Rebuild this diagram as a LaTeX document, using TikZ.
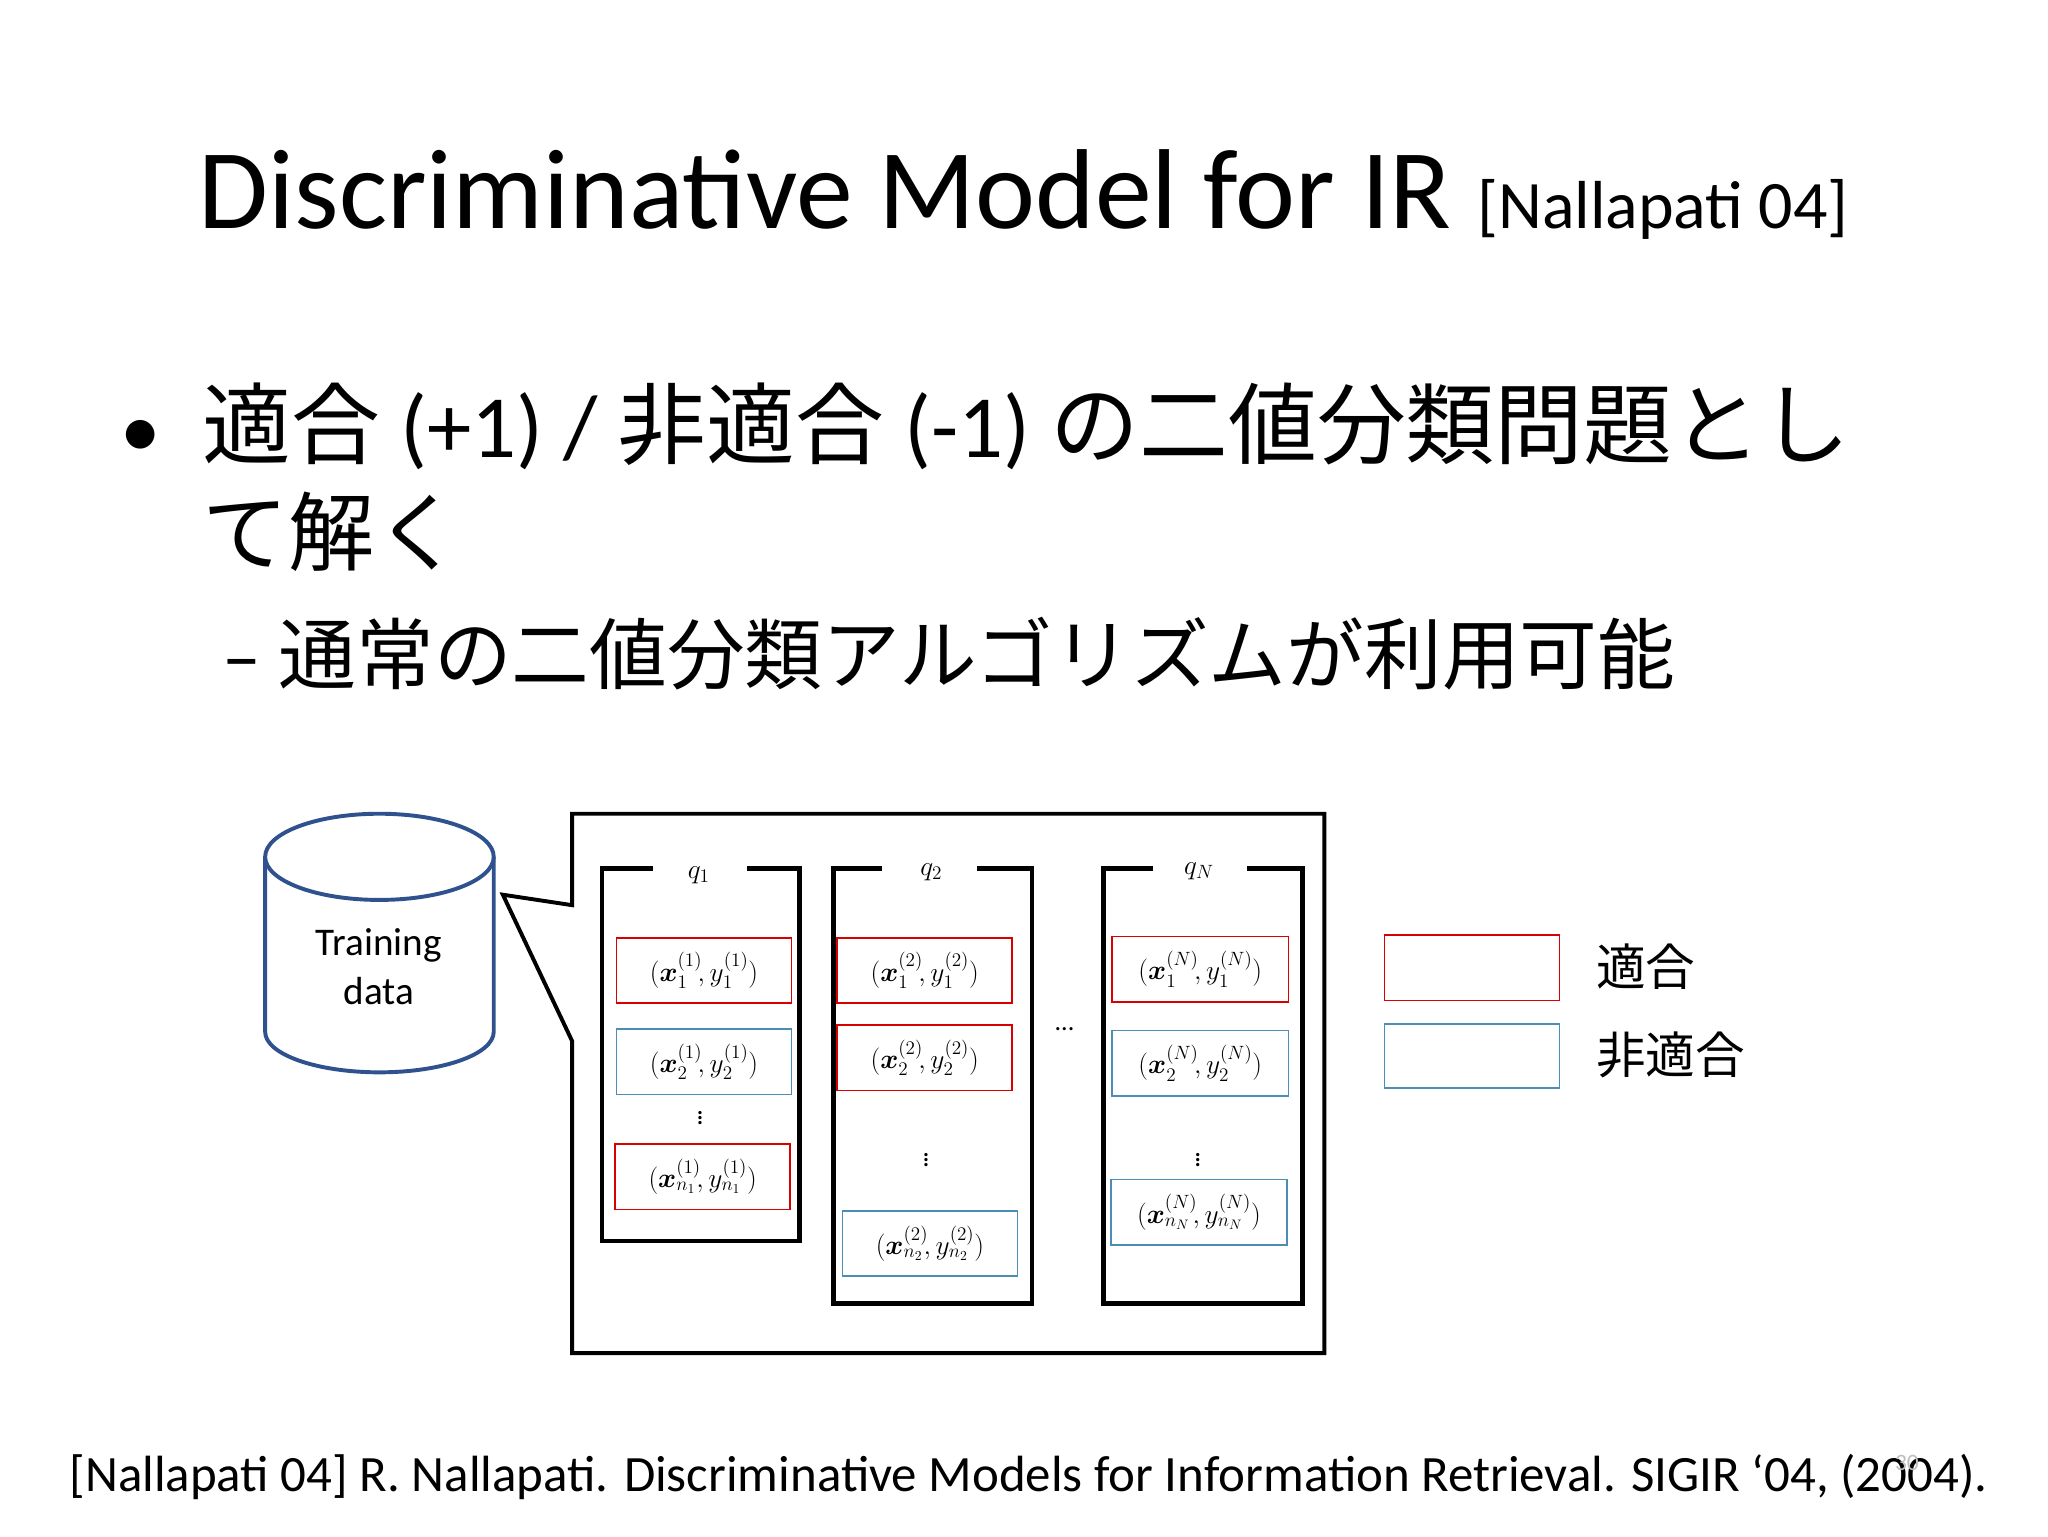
\RequirePackage{fix-cm}
\documentclass[tikz,border=0pt]{standalone}
\usepackage{amsmath}
\usepackage{fontspec}
\setmainfont{Carlito}
\newfontfamily\jp{Noto Sans CJK JP}
\usetikzlibrary{shapes.geometric}
\tikzset{
  redbox/.style={draw=red!85!black,line width=1.3pt,minimum width=134pt,minimum height=50pt,inner sep=0pt},
  bluebox/.style={draw=blue!40!cyan!60!black!70,line width=1.3pt,minimum width=134pt,minimum height=50pt,inner sep=0pt},
  col/.style={line width=3.5pt},
  mth/.style={font=\fontsize{21}{24}\selectfont}
}
\begin{document}
\begin{tikzpicture}[x=1pt,y=-1pt]
\useasboundingbox (0,0) rectangle (1568,1176);
\fill[white] (0,0) rectangle (1568,1176);
% title
\node[anchor=base west,inner sep=0] (title) at (152,175) {\fontsize{87}{90}\selectfont Discriminative Model for IR \fontsize{52}{56}\selectfont[Nallapati 04]};
% bullets
\node[anchor=base west,inner sep=0] (b1) at (92,350) {\fontsize{62}{70}\selectfont •};
\node[anchor=base west,inner sep=0] (l1) at (155,350) {\fontsize{68}{70}\selectfont{\jp 適合} (+1) / {\jp 非適合} (-1) {\jp の二値分類問題とし}};
\node[anchor=base west,inner sep=0] (l2) at (155,432) {\fontsize{66}{70}\selectfont\jp て解く};
\node[anchor=base west,inner sep=0] (l3) at (170,523) {\fontsize{59.5}{64}\selectfont – {\jp 通常の二値分類アルゴリズムが利用可能}};
% cylinder
\draw[line width=3pt,draw={rgb,255:red,47;green,82;blue,143},fill=white] (203,656) -- (203,790) arc[start angle=180,end angle=0,x radius=87.5,y radius=31] -- (378,656);
\draw[line width=3pt,draw={rgb,255:red,47;green,82;blue,143},fill=white] (290.5,656) ellipse[x radius=87.5,y radius=33];
\node[align=center,font=\fontsize{30}{37}\selectfont] (td) at (290,740) {Training\\data};
% callout
\draw[line width=3pt,line join=miter] (438,693) -- (438,623) -- (1014,623) -- (1014,1036) -- (438,1036) -- (438,797) -- (385,685) -- cycle;
% columns
\draw[col] (500,665) -- (461,665) -- (461,950) -- (612,950) -- (612,665) -- (572,665);
\node[mth] (q1) at (535,670) {$q_1$};
\draw[col] (675,665) -- (638,665) -- (638,998) -- (790,998) -- (790,665) -- (748,665);
\node[mth] (q2) at (713,668) {$q_2$};
\draw[col] (883,665) -- (845,665) -- (845,998) -- (997,998) -- (997,665) -- (955,665);
\node[mth] (qN) at (918,667) {$q_N$};
% col1
\node[redbox,mth] (a1) at (539,743) {$(\boldsymbol{x}_1^{(1)}\!,y_1^{(1)})$};
\node[bluebox,mth] (a2) at (539,813) {$(\boldsymbol{x}_2^{(1)}\!,y_2^{(1)})$};
\node[mth] (ad) at (536,853) {$\vdots$};
\node[redbox,mth] (a3) at (538,901) {$(\boldsymbol{x}_{n_1}^{(1)}\!,y_{n_1}^{(1)})$};
% col2
\node[redbox,mth] (b1b) at (708,743) {$(\boldsymbol{x}_1^{(2)}\!,y_1^{(2)})$};
\node[redbox,mth] (b2) at (708,810) {$(\boldsymbol{x}_2^{(2)}\!,y_2^{(2)})$};
\node[mth] (bd) at (709,885) {$\vdots$};
\node[bluebox,mth] (b3) at (712,952) {$(\boldsymbol{x}_{n_2}^{(2)}\!,y_{n_2}^{(2)})$};
% col3
\node[redbox,mth,minimum width=135pt] (c1) at (919,742) {$(\boldsymbol{x}_1^{(N)}\!,y_1^{(N)})$};
\node[bluebox,mth,minimum width=135pt] (c2) at (919,814) {$(\boldsymbol{x}_2^{(N)}\!,y_2^{(N)})$};
\node[mth] (cd) at (917,885) {$\vdots$};
\node[bluebox,mth,minimum width=135pt] (c3) at (918,928) {$(\boldsymbol{x}_{n_N}^{(N)}\!,y_{n_N}^{(N)})$};
\node[font=\fontsize{20}{20}\selectfont] (dots) at (815,788) {...};
% legend
\node[redbox] (lr) at (1127,741) {};
\node[bluebox,minimum height=49pt] (lb) at (1127,808.5) {};
\node[anchor=west,inner sep=0,font=\fontsize{38}{40}\selectfont\jp] (lrt) at (1222,740) {適合};
\node[anchor=west,inner sep=0,font=\fontsize{38}{40}\selectfont\jp] (lbt) at (1222,808) {非適合};
% footer
\node[anchor=base west,inner sep=0] (foot) at (53,1142) {\fontsize{39}{42}\selectfont [Nallapati 04] R. Nallapati. Discriminative Models for Information Retrieval. SIGIR ‘04, (2004).};
\node[text=black!25,font=\fontsize{18}{20}\selectfont] (pg) at (1460,1120) {30};
\end{tikzpicture}
\end{document}
